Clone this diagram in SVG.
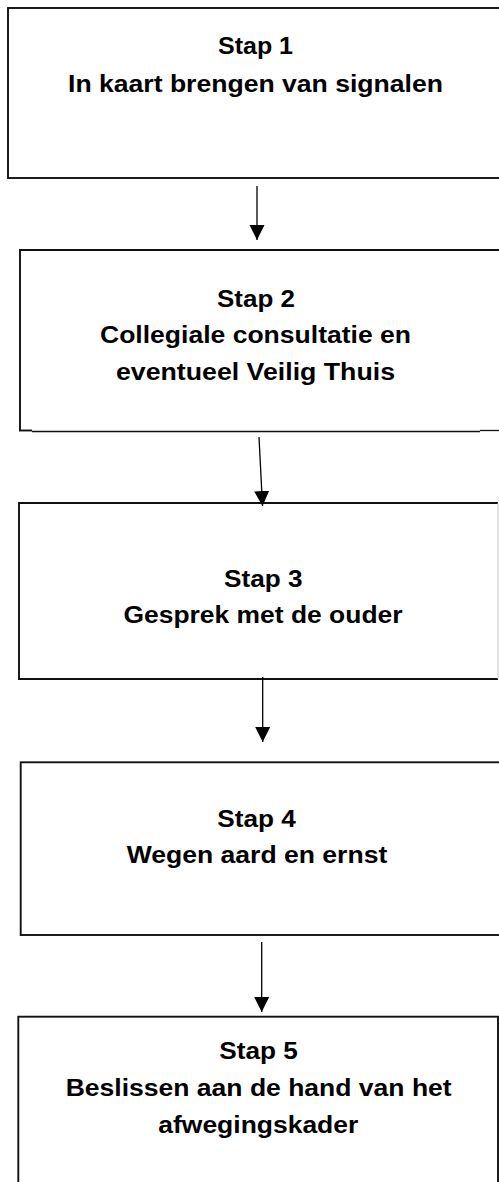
<svg xmlns="http://www.w3.org/2000/svg" width="499" height="1182" viewBox="0 0 499 1182">
  <style>
    .box { fill: #ffffff; stroke: #111111; stroke-width: 1.9; }
    .t { font-family: "Liberation Sans", Arial, sans-serif; font-weight: bold; font-size: 23.5px; fill: #000000; text-anchor: middle; }
    .conn { stroke: #000000; stroke-width: 1.3; fill: none; }
  </style>
  <defs>
    <marker id="arrow" markerUnits="userSpaceOnUse" markerWidth="16" markerHeight="16" viewBox="0 0 16 16" refX="15" refY="8" orient="auto">
      <path d="M0,0.5 L15,8 L0,15.5 Z" fill="#000000"/>
    </marker>
  </defs>
  <rect width="499" height="1182" fill="#ffffff"/>

  <g id="step1">
    <rect class="box" x="8" y="8" width="510" height="170"/>
    <text class="t" x="255.5" y="54" textLength="75" lengthAdjust="spacingAndGlyphs">Stap 1</text>
    <text class="t" x="255.5" y="91.5" textLength="375" lengthAdjust="spacingAndGlyphs">In kaart brengen van signalen</text>
  </g>

  <g id="step2">
    <path d="M20,430.5 L20,250 L510,250" class="box" fill="none"/>
    <line x1="19" y1="430.5" x2="32" y2="430.5" stroke="#111111" stroke-width="1.9"/>
    <line x1="32" y1="431.5" x2="480" y2="431.5" stroke="#111111" stroke-width="1.3"/>
    <line x1="480" y1="430.5" x2="499" y2="430.5" stroke="#111111" stroke-width="1.3"/>
    <text class="t" x="256" y="306.5" textLength="78" lengthAdjust="spacingAndGlyphs">Stap 2</text>
    <text class="t" x="255.5" y="343" textLength="311" lengthAdjust="spacingAndGlyphs">Collegiale consultatie en</text>
    <text class="t" x="255.5" y="379.5" textLength="279" lengthAdjust="spacingAndGlyphs">eventueel Veilig Thuis</text>
  </g>

  <g id="step3">
    <path d="M498,503 L19,503 L19,679 L498,679" class="box" fill="none"/>
    <line x1="498" y1="503" x2="498" y2="679" stroke="#c8c8c8" stroke-width="1"/>
    <text class="t" x="263.3" y="586.5" textLength="78.5" lengthAdjust="spacingAndGlyphs">Stap 3</text>
    <text class="t" x="263" y="622.5" textLength="279" lengthAdjust="spacingAndGlyphs">Gesprek met de ouder</text>
  </g>

  <g id="step4">
    <rect class="box" x="20.7" y="762.3" width="490" height="172.7"/>
    <text class="t" x="256.5" y="826.5" textLength="78.5" lengthAdjust="spacingAndGlyphs">Stap 4</text>
    <text class="t" x="257" y="863.3" textLength="260.5" lengthAdjust="spacingAndGlyphs">Wegen aard en ernst</text>
  </g>

  <g id="step5">
    <rect class="box" x="18.3" y="1016.7" width="479.7" height="180"/>
    <text class="t" x="258.5" y="1059.3" textLength="78.5" lengthAdjust="spacingAndGlyphs">Stap 5</text>
    <text class="t" x="258.7" y="1096" textLength="386" lengthAdjust="spacingAndGlyphs">Beslissen aan de hand van het</text>
    <text class="t" x="258.3" y="1133.3" textLength="200" lengthAdjust="spacingAndGlyphs">afwegingskader</text>
  </g>

  <g id="connectors">
    <line class="conn" x1="257" y1="186" x2="257" y2="240" marker-end="url(#arrow)"/>
    <line class="conn" x1="259" y1="437" x2="262.5" y2="506" marker-end="url(#arrow)"/>
    <line class="conn" x1="262.7" y1="677" x2="262.7" y2="742" marker-end="url(#arrow)"/>
    <line class="conn" x1="261.7" y1="942" x2="261.7" y2="1012" marker-end="url(#arrow)"/>
  </g>
</svg>
